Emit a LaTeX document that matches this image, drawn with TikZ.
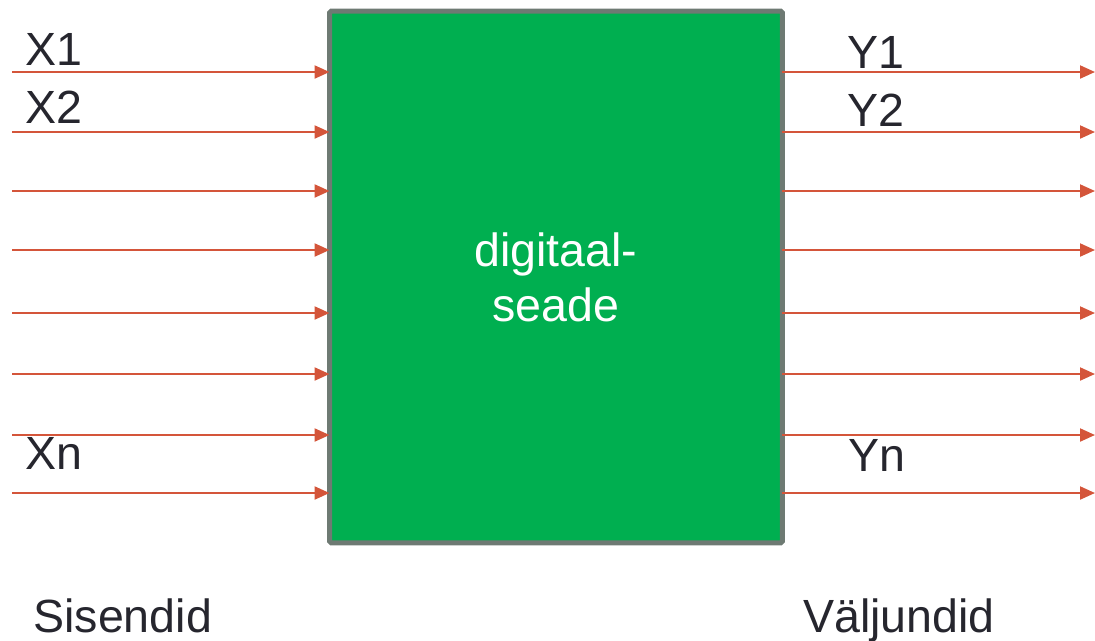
\documentclass[tikz,border=0pt]{standalone}
\usepackage{fontspec}
\setmainfont{Liberation Sans}
\usetikzlibrary{arrows.meta}

\definecolor{boxgreen}{HTML}{00AF50}
\definecolor{boxgray}{HTML}{6E7A73}
\definecolor{arrowred}{HTML}{D4553A}
\definecolor{ink}{HTML}{26262E}

\begin{document}
\begin{tikzpicture}[x=0.02cm, y=-0.02cm,
        wire/.style={draw=arrowred, line width=1.2pt, -{Triangle[length=0.3cm,width=0.26cm]}},
        lbl/.style={anchor=base west, inner sep=0pt, text=ink, font=\fontsize{26.5}{31}\selectfont}]
    \useasboundingbox (0,0) rectangle (1095,640);

    % the device block
    \node[draw=boxgray, fill=boxgreen, line width=0.1cm, outer sep=0pt, rounded corners=1pt,
          minimum width=9.06cm, minimum height=10.64cm,
          text=white, align=center, font=\fontsize{26.5}{31.3}\selectfont] (box) at (556,277) {digitaal-\\seade};

    % input and output lines
    \foreach \y [count=\i] in {72,132,191,250,313,374,435,493} {
        \coordinate (in\i) at (12,\y);
        \coordinate (out\i) at (1095,\y);
        \draw[wire] (in\i) -- (in\i -| box.west);
        \draw[wire] (box.east |- out\i) -- (out\i);
    }

    \node[lbl] (x1) at (25,65) {X1};
    \node[lbl] (x2) at (25,123) {X2};
    \node[lbl] (xn) at (25,469) {Xn};
    \node[lbl] (y1) at (847,68) {Y1};
    \node[lbl] (y2) at (847,126) {Y2};
    \node[lbl] (yn) at (848,471) {Yn};

    \node[lbl] (inputs) at (33,632) {Sisendid};
    \node[lbl] (outputs) at (803,632) {Väljundid};
\end{tikzpicture}
\end{document}
